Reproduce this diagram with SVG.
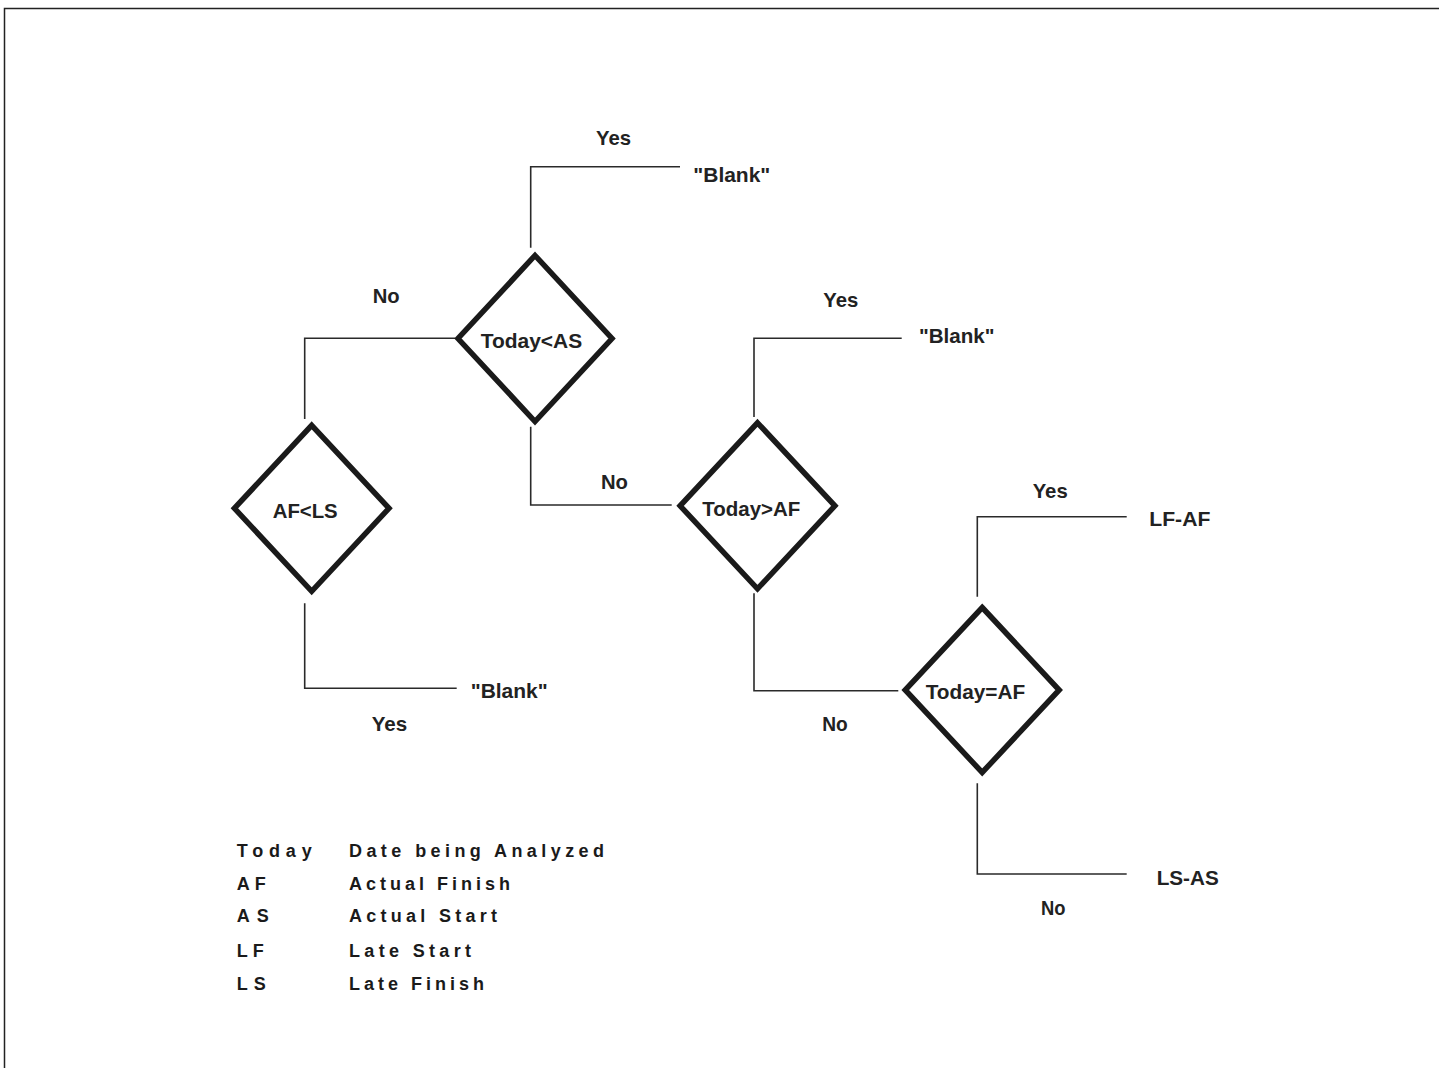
<svg xmlns="http://www.w3.org/2000/svg" width="1439" height="1068" viewBox="0 0 1439 1068">
<style>
.frame{fill:none;stroke:#222;stroke-width:1.5}
.dia{fill:#fff;stroke:#1a1a1a;stroke-width:5.5;stroke-linejoin:miter}
.con{fill:none;stroke:#2a2a2a;stroke-width:1.6}
.lbl{font-family:"Liberation Sans",Arial,sans-serif;font-weight:bold;font-size:21px;fill:#222}
.leg{font-family:"Liberation Sans",Arial,sans-serif;font-weight:bold;font-size:18px;fill:#1a1a1a}
</style>
<rect width="1439" height="1068" fill="#fff"/>
<path class="frame" d="M4.5,1068 V8.5 H1439"/>
<g id="connectors">
<path class="con" d="M530.7,247.7 V166.7 H680"/>
<path class="con" d="M455,338.3 H304.7 V419"/>
<path class="con" d="M304.7,603.3 V688.3 H456.7"/>
<path class="con" d="M530.7,426.7 V505 H671.7"/>
<path class="con" d="M754,417 V338.3 H901.7"/>
<path class="con" d="M754,593.3 V690.7 H898.3"/>
<path class="con" d="M977.3,596.7 V516.7 H1126.7"/>
<path class="con" d="M977.3,783.3 V874 H1126.7"/>
</g>
<g id="edge-labels">
<text class="lbl" x="596" y="145" textLength="35" lengthAdjust="spacingAndGlyphs">Yes</text>
<text class="lbl" x="372.7" y="303.3" textLength="27" lengthAdjust="spacingAndGlyphs">No</text>
<text class="lbl" x="371.7" y="731" textLength="35.5" lengthAdjust="spacingAndGlyphs">Yes</text>
<text class="lbl" x="601" y="489" textLength="27" lengthAdjust="spacingAndGlyphs">No</text>
<text class="lbl" x="823.3" y="306.7" textLength="35" lengthAdjust="spacingAndGlyphs">Yes</text>
<text class="lbl" x="822.3" y="731" textLength="25.5" lengthAdjust="spacingAndGlyphs">No</text>
<text class="lbl" x="1032.7" y="498.3" textLength="35" lengthAdjust="spacingAndGlyphs">Yes</text>
<text class="lbl" x="1041" y="915" textLength="24.5" lengthAdjust="spacingAndGlyphs">No</text>
</g>
<g id="out-blank-1"><text class="lbl" x="693.3" y="181.7" textLength="77" lengthAdjust="spacingAndGlyphs">"Blank"</text></g>
<g id="out-blank-2"><text class="lbl" x="470.7" y="698.3" textLength="77" lengthAdjust="spacingAndGlyphs">"Blank"</text></g>
<g id="out-blank-3"><text class="lbl" x="919" y="343.3" textLength="75.5" lengthAdjust="spacingAndGlyphs">"Blank"</text></g>
<g id="out-lfaf"><text class="lbl" x="1149.3" y="525.7" textLength="61" lengthAdjust="spacingAndGlyphs">LF-AF</text></g>
<g id="out-lsas"><text class="lbl" x="1156.7" y="885" textLength="62" lengthAdjust="spacingAndGlyphs">LS-AS</text></g>
<g id="d-today-lt-as">
<polygon class="dia" points="535,255.5 612,338.5 535,421.5 458,338.5"/>
<text class="lbl" x="480.7" y="348.3" textLength="101.5" lengthAdjust="spacingAndGlyphs">Today&lt;AS</text>
</g>
<g id="d-af-lt-ls">
<polygon class="dia" points="311.7,425.3 389,508.3 311.7,591.3 234.4,508.3"/>
<text class="lbl" x="272.7" y="518.3" textLength="65" lengthAdjust="spacingAndGlyphs">AF&lt;LS</text>
</g>
<g id="d-today-gt-af">
<polygon class="dia" points="757.5,422.8 834.9,505.8 757.5,588.8 680.1,505.8"/>
<text class="lbl" x="702.3" y="516" textLength="98" lengthAdjust="spacingAndGlyphs">Today&gt;AF</text>
</g>
<g id="d-today-eq-af">
<polygon class="dia" points="982.2,607.5 1059.2,690 982.2,772.5 905.2,690"/>
<text class="lbl" x="925.7" y="699" textLength="99.5" lengthAdjust="spacingAndGlyphs">Today=AF</text>
</g>
<g id="legend">
<text class="leg" x="236.7" y="856.7" textLength="75" lengthAdjust="spacing">Today</text>
<text class="leg" x="349" y="856.7" textLength="255" lengthAdjust="spacing">Date being Analyzed</text>
<text class="leg" x="236.7" y="890" textLength="29" lengthAdjust="spacing">AF</text>
<text class="leg" x="349" y="890" textLength="161" lengthAdjust="spacing">Actual Finish</text>
<text class="leg" x="236.7" y="921.7" textLength="32" lengthAdjust="spacing">AS</text>
<text class="leg" x="349" y="921.7" textLength="148" lengthAdjust="spacing">Actual Start</text>
<text class="leg" x="236.7" y="956.7" textLength="27" lengthAdjust="spacing">LF</text>
<text class="leg" x="349" y="956.7" textLength="122" lengthAdjust="spacing">Late Start</text>
<text class="leg" x="236.7" y="990" textLength="29" lengthAdjust="spacing">LS</text>
<text class="leg" x="349" y="990" textLength="135" lengthAdjust="spacing">Late Finish</text>
</g>
</svg>
